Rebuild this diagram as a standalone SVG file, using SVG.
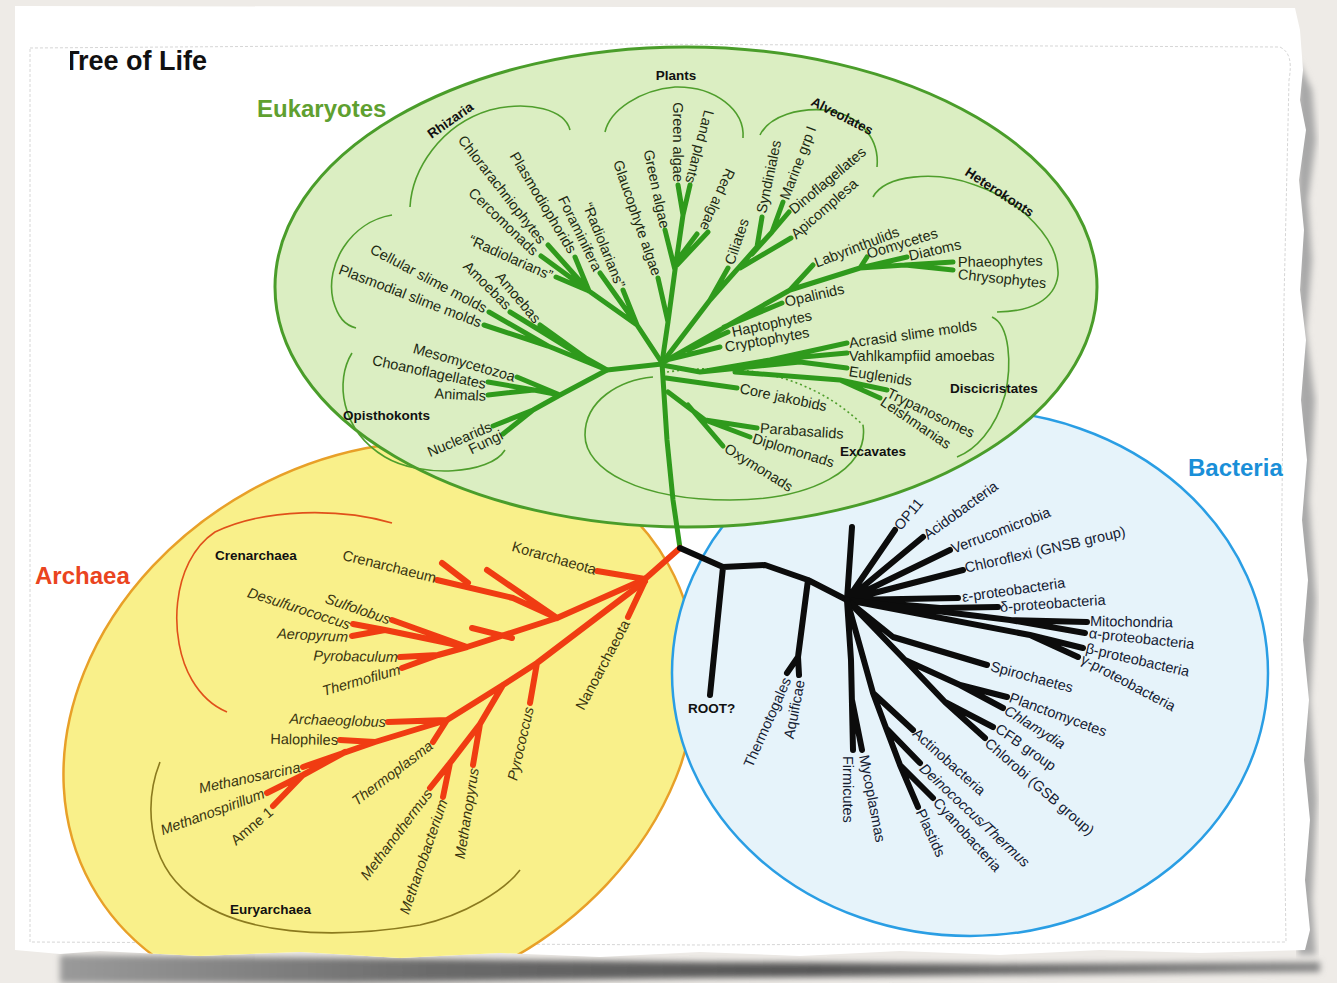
<svg xmlns="http://www.w3.org/2000/svg" width="1337" height="983" viewBox="0 0 1337 983">
<defs>
<style>
.t{font-family:"Liberation Sans",Arial,sans-serif;dominant-baseline:central}
.e{font-size:14.5px;fill:#1d2a12}
.a{font-size:14.5px;fill:#3a3510}
.b{font-size:14.5px;fill:#142032}
.i{font-style:italic}
.g{font-family:"Liberation Sans",Arial,sans-serif;font-weight:bold;font-size:13.5px;fill:#111}
.dom{font-family:"Liberation Sans",Arial,sans-serif;font-weight:bold;font-size:24px}
.gb{fill:none;stroke:#2f9a1c;stroke-width:5;stroke-linecap:round;stroke-linejoin:round}
.rb{fill:none;stroke:#f03c12;stroke-width:6;stroke-linecap:round;stroke-linejoin:round}
.kb{fill:none;stroke:#0c0c0c;stroke-width:6;stroke-linecap:round;stroke-linejoin:round}
.arc{fill:none;stroke:#4f9e2c;stroke-width:1.6}
</style>
<filter id="blur" x="-10%" y="-50%" width="120%" height="200%"><feGaussianBlur stdDeviation="3"/></filter>
<linearGradient id="shade" x1="0" y1="0" x2="1" y2="0">
<stop offset="0" stop-color="#9a9a9a"/>
<stop offset="0.3" stop-color="#6a6a6a"/>
<stop offset="0.6" stop-color="#555"/>
<stop offset="1" stop-color="#888"/>
</linearGradient>
<clipPath id="paperclip"><path d="M15,6 L1295,8 L1300,30 L1303,70 L1300,100 L1306,130 L1299,180 L1304,230 L1300,290 L1306,340 L1301,400 L1307,460 L1302,520 L1308,580 L1303,640 L1309,700 L1304,760 L1310,820 L1305,880 L1310,930 L1305,950 L1200,953 L1100,950 L1000,955 L900,951 L800,956 L700,952 L600,957 L500,953 L400,958 L300,952 L200,956 L100,951 L60,954 L15,950 Z"/></clipPath>
<clipPath id="tclip"><rect x="70" y="35" width="200" height="50"/></clipPath>
</defs>

<g id="background">
<rect x="0" y="0" width="1337" height="983" fill="#eeebe7"/>
<path d="M60,955 L350,958 L700,962 L1000,964 L1320,962 L1320,972 L1000,975 L700,978 L350,983 L60,983 Z" fill="url(#shade)" filter="url(#blur)"/>
<path d="M1298,60 L1312,90 L1316,140 L1308,200 L1312,260 L1306,330 L1315,400 L1309,500 L1316,600 L1310,700 L1317,800 L1312,900 L1316,955 L1298,955 Z" fill="#a8a8a8" filter="url(#blur)"/>
<path d="M15,6 L1295,8 L1300,30 L1303,70 L1300,100 L1306,130 L1299,180 L1304,230 L1300,290 L1306,340 L1301,400 L1307,460 L1302,520 L1308,580 L1303,640 L1309,700 L1304,760 L1310,820 L1305,880 L1310,930 L1305,950 L1200,953 L1100,950 L1000,955 L900,951 L800,956 L700,952 L600,957 L500,953 L400,958 L300,952 L200,956 L100,951 L60,954 L15,950 Z" fill="#ffffff"/>
<path d="M30,48 L600,44 L1280,47 C1290,52 1292,62 1289,80 L1284,300 L1281,600 L1286,942 L700,945 L30,942 Z" fill="none" stroke="#d6d6d6" stroke-width="1" stroke-dasharray="3 2"/>
</g>

<g id="title">
<text x="63" y="70" font-family="Liberation Sans,Arial,sans-serif" font-weight="bold" font-size="27" fill="#111" clip-path="url(#tclip)">Tree of Life</text>
</g>

<g id="archaea" clip-path="url(#paperclip)">
<ellipse cx="380" cy="725" rx="330" ry="268" transform="rotate(-29 380 725)" fill="#f9f08a" stroke="#e8a028" stroke-width="2.5"/>
</g>
<g id="bacteria">
<ellipse cx="970" cy="673" rx="298" ry="263" fill="#e6f3fa" stroke="#2a9ee4" stroke-width="2.5"/>
</g>
<g id="eukaryotes">
<ellipse cx="686" cy="287" rx="411" ry="240" fill="#dbeec2" stroke="#4a9d2a" stroke-width="3"/>
</g>

<g id="domain-labels">
<text class="dom" x="257" y="117" fill="#5fa030">Eukaryotes</text>
<text class="dom" x="35" y="584" fill="#ea4420" font-size="25">Archaea</text>
<text class="dom" x="1188" y="476" fill="#1a8fd8" font-size="25">Bacteria</text>
</g>

<g id="group-outlines">
<path class="arc" d="M352,353 C335,380 340,430 385,457 C420,478 490,475 505,450"/>
<path class="arc" d="M392,215 C350,222 325,265 333,300 C338,318 345,325 356,328"/>
<path class="arc" d="M410,207 C412,170 440,125 490,110 C530,100 565,110 570,130"/>
<path class="arc" d="M605,132 C610,110 640,90 675,87 C715,86 745,110 743,138"/>
<path class="arc" d="M760,135 C770,115 800,108 825,110 C855,113 880,135 877,167"/>
<path class="arc" d="M873,197 C885,175 935,170 975,185 C1020,200 1060,240 1058,275 C1055,300 1030,312 997,312"/>
<path class="arc" d="M992,317 C1010,325 1012,365 1005,395 C995,430 975,450 957,457"/>
<path class="arc" d="M667,372 Q790,355 863,425" stroke-dasharray="2 3"/>
<path class="arc" d="M863,425 C870,470 810,500 730,500 C640,500 585,470 585,435 C585,400 620,380 653,377"/>
<path fill="none" stroke="#e0501a" stroke-width="1.6" d="M392,523 C340,508 265,508 215,532 C170,562 168,640 192,680 C202,697 215,707 227,712"/>
<path fill="none" stroke="#8b7a1e" stroke-width="1.6" d="M160,762 C145,800 145,860 190,895 C240,935 330,940 420,925 C465,915 505,890 520,870"/>
</g>

<g id="connectors">
<path class="gb" stroke-width="4.5" d="M662,363 L667,440 L673,500 L680,548"/>
<path class="gb" d="M662,363 L668,322 L675,270 L683,215 M683,215 L678,185 M683,215 L690,185 M668,322 L658,278 M675,270 L665,230 M677,265 L708,232 M679,258 L697,234"/>
<path class="gb" d="M662,363 L637,325 L623,290 M637,325 L600,273 M637,325 L589,291 M589,291 L575,257 M589,291 L548,245 M589,291 L541,256 M589,291 L556,277"/>
<path class="gb" d="M662,364 L607,370 M607,370 L548,346 L484,325 M548,346 L489,312 M607,370 L575,352 L510,312 M590,361 L540,325"/>
<path class="gb" d="M607,370 L560,395 M560,395 L517,377 M560,395 L534,390 L488,382 M534,390 L488,395 M560,395 L533,410 L493,426 M533,410 L503,434"/>
<path class="gb" d="M662,363 L710,300 L757,247 L762,217 M710,300 L728,268 M752,254 L772,232 L783,202 M772,232 L789,212 M740,268 L791,238"/>
<path class="gb" d="M662,363 L790,290 L813,265 M790,290 L860,268 L867,257 M860,268 L907,257 M860,268 L905,265 L953,262 M905,265 L953,270 M724,327 L782,303 M688,350 L728,332 M666,360 L720,347"/>
<path class="gb" d="M662,365 L700,372 L770,360 L847,343 M770,360 L847,353 M700,372 L800,362 L847,368 M735,372 L840,380 L887,390 M840,380 L880,398"/>
<path class="gb" d="M666,378 L737,388 M668,392 L705,420 L757,428 M705,420 L750,437 M688,405 L723,446"/>

<path class="rb" d="M680,548 L645,579 M645,579 L597,571 M645,581 L628,617"/>
<path class="rb" d="M645,579 L557,618 L467,647 M557,618 L513,598 L437,580 M468,583 L442,563 M557,618 L487,570 M467,647 L392,620 M467,647 L385,630 L353,624 M385,630 L352,636 M472,628 L512,638 M467,647 L438,655 L400,657 M438,655 L402,668"/>
<path class="rb" d="M645,581 L537,663 L503,685 L447,720 M537,663 L530,703 M503,685 L480,724 L473,765 M480,724 L450,763 L430,788 M450,763 L443,797 M447,720 L433,742 M447,720 L388,722 M447,720 L375,742 L340,740 M375,742 L303,767 M345,752 L303,775 L267,793 M303,775 L273,806"/>

<path class="kb" d="M680,548 L723,567 L765,565 L808,580 L847,600 M723,567 L710,695 M808,580 L798,657 L787,673 M798,657 L799,675"/>
<path class="kb" d="M847,600 L852,527 M847,600 L895,530 M847,600 L923,537 M847,600 L950,550 M847,600 L963,570 M847,600 L958,598 M847,600 L940,608 L998,607"/>
<path class="kb" d="M847,600 L1010,620 L1087,622 M1010,620 L1085,633 M847,600 L1030,635 L1083,648 M1030,635 L1078,657"/>
<path class="kb" d="M847,600 L893,637 L987,665 M847,600 L905,660 L960,685 L1007,697 M960,685 L1003,708 M905,660 L945,702 L993,727 M945,702 L985,738"/>
<path class="kb" d="M847,600 L851,660 L853,750 M852,700 L862,750 M847,600 L873,693 L913,730 M873,693 L886,728 L920,763 M886,728 L900,765 L933,798 M900,765 L918,807"/>
</g>

<g id="eukaryote-taxa">
<text class="t e" text-anchor="end" transform="translate(543,242) rotate(52)">Chlorarachniophytes</text>
<text class="t e" text-anchor="end" transform="translate(573,252) rotate(59)">Plasmodiophorids</text>
<text class="t e" text-anchor="end" transform="translate(598,270) rotate(64)">Foraminifera</text>
<text class="t e" text-anchor="end" transform="translate(621,287) rotate(68)">“Radiolarians”</text>
<text class="t e" text-anchor="end" transform="translate(536,253) rotate(44)">Cercomonads</text>
<text class="t e" text-anchor="end" transform="translate(552,276) rotate(24)">“Radiolarians”</text>
<text class="t e" text-anchor="end" transform="translate(486,309) rotate(28)">Cellular slime molds</text>
<text class="t e" text-anchor="end" transform="translate(481,323) rotate(21)">Plasmodial slime molds</text>
<text class="t e" text-anchor="end" transform="translate(509,307) rotate(45)">Amoebas</text>
<text class="t e" text-anchor="end" transform="translate(538,321) rotate(50)">Amoebas</text>
<text class="t e" text-anchor="end" transform="translate(515,377) rotate(16)">Mesomycetozoa</text>
<text class="t e" text-anchor="end" transform="translate(486,384) rotate(12)">Choanoflagellates</text>
<text class="t e" text-anchor="end" transform="translate(486,396) rotate(3)">Animals</text>
<text class="t e" text-anchor="end" transform="translate(491,426) rotate(-23)">Nuclearids</text>
<text class="t e" text-anchor="end" transform="translate(502,434) rotate(-26)">Fungi</text>
<text class="t e" text-anchor="end" transform="translate(678,182) rotate(90)">Green algae</text>
<text class="t e" text-anchor="end" transform="translate(690,183) rotate(105)">Land plants</text>
<text class="t e" text-anchor="end" transform="translate(665,228) rotate(78)">Green algae</text>
<text class="t e" text-anchor="end" transform="translate(704,230) rotate(114)">Red algae</text>
<text class="t e" text-anchor="end" transform="translate(657,275) rotate(71)">Glaucophyte algae</text>
<text class="t e" transform="translate(729,264) rotate(-71)">Ciliates</text>
<text class="t e" transform="translate(761,213) rotate(-78)">Syndiniales</text>
<text class="t e" transform="translate(784,199) rotate(-69)">Marine grp I</text>
<text class="t e" transform="translate(791,211) rotate(-40)">Dinoflagellates</text>
<text class="t e" transform="translate(793,236) rotate(-41)">Apicomplesa</text>
<text class="t e" transform="translate(815,263) rotate(-21)">Labyrinthulids</text>
<text class="t e" transform="translate(867,254) rotate(-17)">Oomycetes</text>
<text class="t e" transform="translate(909,256) rotate(-13)">Diatoms</text>
<text class="t e" transform="translate(958,262) rotate(-1)">Phaeophytes</text>
<text class="t e" transform="translate(958,274) rotate(6)">Chrysophytes</text>
<text class="t e" transform="translate(785,302) rotate(-13)">Opalinids</text>
<text class="t e" transform="translate(732,332) rotate(-12)">Haptophytes</text>
<text class="t e" transform="translate(725,347) rotate(-10)">Cryptophytes</text>
<text class="t e" transform="translate(849,343) rotate(-8)">Acrasid slime molds</text>
<text class="t e" transform="translate(849,356) rotate(0)">Vahlkampfiid amoebas</text>
<text class="t e" transform="translate(849,371) rotate(9)">Euglenids</text>
<text class="t e" transform="translate(888,392) rotate(26)">Trypanosomes</text>
<text class="t e" transform="translate(882,400) rotate(34)">Leishmanias</text>
<text class="t e" transform="translate(740,388) rotate(12)">Core jakobids</text>
<text class="t e" transform="translate(760,428) rotate(4)">Parabasalids</text>
<text class="t e" transform="translate(753,438) rotate(17)">Diplomonads</text>
<text class="t e" transform="translate(726,447) rotate(32)">Oxymonads</text>
</g>

<g id="eukaryote-groups">
<text class="g" text-anchor="middle" transform="translate(453,124) rotate(-35)">Rhizaria</text>
<text class="g" text-anchor="middle" x="676" y="80">Plants</text>
<text class="g" text-anchor="middle" transform="translate(840,120) rotate(27)">Alveolates</text>
<text class="g" text-anchor="middle" transform="translate(997,196) rotate(33)">Heterokonts</text>
<text class="g" x="950" y="393">Discicristates</text>
<text class="g" x="840" y="456">Excavates</text>
<text class="g" x="343" y="420">Opisthokonts</text>
</g>

<g id="archaea-taxa">
<text class="t a" text-anchor="end" transform="translate(596,570) rotate(16)">Korarchaeota</text>
<text class="t a" text-anchor="end" transform="translate(436,578) rotate(14)">Crenarchaeum</text>
<text class="t a i" text-anchor="end" transform="translate(390,620) rotate(19)">Sulfolobus</text>
<text class="t a i" text-anchor="end" transform="translate(350,625) rotate(18)">Desulfurococcus</text>
<text class="t a i" text-anchor="end" transform="translate(348,637) rotate(3)">Aeropyrum</text>
<text class="t a i" text-anchor="end" transform="translate(398,657) rotate(1)">Pyrobaculum</text>
<text class="t a i" text-anchor="end" transform="translate(400,669) rotate(-16)">Thermofilum</text>
<text class="t a i" text-anchor="end" transform="translate(386,722) rotate(2)">Archaeoglobus</text>
<text class="t a" text-anchor="end" transform="translate(338,740) rotate(1)">Halophiles</text>
<text class="t a i" text-anchor="end" transform="translate(300,767) rotate(-12)">Methanosarcina</text>
<text class="t a i" text-anchor="end" transform="translate(264,793) rotate(-20)">Methanospirillum</text>
<text class="t a" text-anchor="end" transform="translate(271,810) rotate(-40)">Amne 1</text>
<text class="t a i" text-anchor="end" transform="translate(431,744) rotate(-37)">Thermoplasma</text>
<text class="t a i" text-anchor="end" transform="translate(429,791) rotate(-53)">Methanothermus</text>
<text class="t a i" text-anchor="end" transform="translate(443,800) rotate(-71)">Methanobacterium</text>
<text class="t a i" text-anchor="end" transform="translate(474,768) rotate(-81)">Methanopyrus</text>
<text class="t a i" text-anchor="end" transform="translate(529,707) rotate(-77)">Pyrococcus</text>
<text class="t a" text-anchor="end" transform="translate(626,621) rotate(-62)">Nanoarchaeota</text>
<text class="g" x="215" y="560" font-size="15.5">Crenarchaea</text>
<text class="g" x="230" y="914" font-size="15.5">Euryarchaea</text>
</g>

<g id="bacteria-taxa">
<text class="g" x="688" y="713">ROOT?</text>
<text class="t b" text-anchor="end" transform="translate(787,678) rotate(-66)">Thermotogales</text>
<text class="t b" text-anchor="end" transform="translate(800,680) rotate(-79)">Aquificae</text>
<text class="t b" transform="translate(848,756) rotate(90)">Firmicutes</text>
<text class="t b" transform="translate(864,755) rotate(79)">Mycoplasmas</text>
<text class="t b" transform="translate(915,731) rotate(42)">Actinobacteria</text>
<text class="t b i" transform="translate(922,766) rotate(43)">Deinococcus/Thermus</text>
<text class="t b" transform="translate(936,800) rotate(48)">Cyanobacteria</text>
<text class="t b" transform="translate(920,810) rotate(65)">Plastids</text>
<text class="t b" transform="translate(987,741) rotate(41)">Chlorobi (GSB group)</text>
<text class="t b" transform="translate(997,727) rotate(35)">CFB group</text>
<text class="t b i" transform="translate(1006,709) rotate(32)">Chlamydia</text>
<text class="t b" transform="translate(1010,697) rotate(20)">Planctomycetes</text>
<text class="t b" transform="translate(991,666) rotate(15)">Spirochaetes</text>
<text class="t b" transform="translate(1090,621) rotate(1)">Mitochondria</text>
<text class="t b" transform="translate(1089,633) rotate(6)">α-proteobacteria</text>
<text class="t b" transform="translate(1086,648) rotate(13)">β-proteobacteria</text>
<text class="t b" transform="translate(1082,658) rotate(28)">γ-proteobacteria</text>
<text class="t b" transform="translate(1000,607) rotate(-4)">δ-proteobacteria</text>
<text class="t b" transform="translate(962,597) rotate(-8)">ε-proteobacteria</text>
<text class="t b" transform="translate(965,568) rotate(-13)">Chloroflexi (GNSB group)</text>
<text class="t b" transform="translate(952,549) rotate(-21)">Verrucomicrobia</text>
<text class="t b" transform="translate(925,536) rotate(-36)">Acidobacteria</text>
<text class="t b" transform="translate(897,528) rotate(-50)">OP11</text>
</g>
</svg>
